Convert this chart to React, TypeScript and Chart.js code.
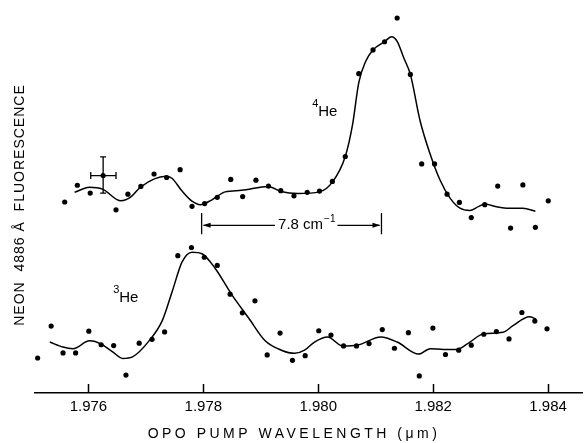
import React, { useEffect, useRef } from 'react';
import { Chart, registerables } from 'chart.js';

Chart.register(...registerables);

// ---- axis ----
const X_TICKS = [1.976, 1.978, 1.98, 1.982, 1.984];
const X_MIN = 1.97507;
const X_MAX = 1.98459;
const Y_MIN = 0;
const Y_MAX = 100;
const X_TITLE = 'OPO PUMP WAVELENGTH (\u03bcm)';
const Y_TITLE = 'NEON  4886 \u00c5  FLUORESCENCE';

// ---- 4He measured points ----
const HE4_X = [1.975587, 1.975807, 1.976031, 1.976256, 1.97648, 1.976687, 1.976912, 1.977142, 1.977361, 1.977596,
  1.977803, 1.978022, 1.978242, 1.978477, 1.978684, 1.978915, 1.979133, 1.979347, 1.979577, 1.979807,
  1.980021, 1.980245, 1.98047, 1.980705, 1.980953, 1.981154, 1.981373, 1.981603, 1.9818, 1.982024,
  1.982242, 1.982456, 1.982663, 1.982898, 1.983123, 1.983347, 1.983561, 1.983779, 1.984003];
const HE4_Y = [49.1, 53.4, 51.4, 55.9, 47.1, 51.1, 53.1, 56.3, 55.4, 57.4,
  48.0, 48.7, 50.3, 54.9, 50.5, 54.7, 53.2, 52.0, 50.7, 51.6,
  51.9, 54.4, 60.8, 82.1, 88.2, 90.3, 96.4, 81.9, 58.9, 58.9,
  51.1, 49.0, 45.1, 48.4, 53.2, 42.4, 53.5, 42.6, 49.4];

// ---- 4He smooth curve ----
const HE4_FIT_X = [1.97576, 1.976019, 1.976244, 1.976566, 1.976739, 1.976912, 1.977344, 1.977453, 1.977625, 1.977803,
  1.977948, 1.978143, 1.97838, 1.978661, 1.979128, 1.979352, 1.979646, 1.980021, 1.980245, 1.98047,
  1.980596, 1.980705, 1.980826, 1.980953, 1.981154, 1.981275, 1.981373, 1.981489, 1.981603, 1.981775,
  1.981948, 1.982121, 1.982294, 1.982466, 1.982639, 1.982784, 1.982898, 1.9831, 1.98333, 1.983561, 1.983779];
const HE4_FIT_Y = [51.6, 52.9, 52.4, 49.4, 50.4, 53.0, 55.7, 55.2, 52.0, 49.3,
  48.4, 49.6, 51.7, 52.1, 53.1, 51.8, 51.3, 51.7, 54.2, 60.8,
  68.9, 79.8, 85.3, 88.2, 90.3, 91.6, 90.4, 86.1, 81.9, 69.8,
  61.4, 54.7, 50.1, 47.5, 46.9, 47.9, 48.6, 47.9, 47.5, 47.5, 46.7];

// ---- 3He measured points ----
const HE3_X = [1.975116, 1.975351, 1.975558, 1.975777, 1.976007, 1.976221, 1.976439, 1.976653, 1.976883, 1.977107,
  1.977326, 1.977556, 1.977793, 1.978017, 1.978242, 1.978466, 1.978679, 1.978898, 1.979111, 1.979335,
  1.979551, 1.979772, 1.980009, 1.980221, 1.98044, 1.980665, 1.980884, 1.981114, 1.981326, 1.981568,
  1.981758, 1.981995, 1.982214, 1.982444, 1.982663, 1.982881, 1.9831, 1.98332, 1.983544, 1.983769, 1.983981];
const HE3_Y = [9.0, 17.2, 10.3, 10.3, 15.9, 12.4, 12.2, 4.6, 12.8, 13.8,
  15.7, 35.3, 37.4, 34.9, 32.8, 25.4, 20.6, 23.7, 9.8, 15.4,
  8.4, 9.6, 16.0, 14.9, 12.1, 12.1, 12.7, 16.3, 11.5, 15.5,
  4.4, 16.7, 9.9, 11.0, 12.3, 15.1, 15.8, 13.9, 20.7, 18.5, 16.5];

// ---- 3He smooth curve ----
const HE3_FIT_X = [1.975328, 1.975558, 1.975731, 1.976019, 1.976192, 1.976421, 1.976594, 1.976767, 1.977055, 1.977285,
  1.977458, 1.97763, 1.977803, 1.977976, 1.978207, 1.978494, 1.978782, 1.979071, 1.979358, 1.979589,
  1.979762, 1.979934, 1.980164, 1.980423, 1.980682, 1.981085, 1.981373, 1.981748, 1.981948, 1.98218,
  1.982409, 1.982639, 1.98287, 1.983216, 1.983389, 1.983675, 1.983791];
const HE3_FIT_Y = [13.1, 11.8, 11.4, 13.4, 12.8, 10.6, 8.9, 9.3, 13.4, 18.6,
  26.1, 33.7, 36.2, 35.8, 32.0, 25.3, 19.4, 13.5, 11.0, 10.2,
  11.0, 13.1, 14.4, 12.1, 12.3, 14.4, 13.1, 10.0, 11.4, 11.2,
  11.2, 13.1, 15.2, 15.6, 17.3, 19.6, 19.0];

// ---- error bar (on one 4He point) ----
const ERR_CENTER = [1.976256, 55.9];
const ERR_X = [1.97604, 1.97648];
const ERR_Y = [51.4, 60.7];

// ---- splitting marker ----
const SPLIT_X = [1.97797, 1.9811];
const SPLIT_Y = [40.8, 43.1, 46.3];
const SPLIT_TEXT_X = 1.9793;
const SPLIT_TEXT = '7.8 cm';
const SPLIT_SUP = '\u22121';

// ---- series labels ----
const LABELS = [
  { sup: '4', text: 'He', x: 1.98, y: 72.3 },
  { sup: '3', text: 'He', x: 1.976537, y: 24.4 },
];

const FONT = '"Liberation Sans", Arial, sans-serif';

const toXY = (xs: number[], ys: number[]) => xs.map((x, i) => ({ x, y: ys[i] }));

const annotPlugin = {
  id: 'annot',
  afterDraw(chart: any) {
    const { ctx, chartArea } = chart;
    const xs = chart.scales.x;
    const ys = chart.scales.y;
    const px = (v: number) => xs.getPixelForValue(v);
    const py = (v: number) => ys.getPixelForValue(v);
    ctx.save();
    ctx.strokeStyle = '#000';
    ctx.fillStyle = '#000';

    // inner tick marks
    ctx.lineWidth = 1.5;
    for (const t of X_TICKS) {
      const x = Math.round(px(t)) + 0.5;
      ctx.beginPath();
      ctx.moveTo(x, chartArea.bottom);
      ctx.lineTo(x, chartArea.bottom - 9);
      ctx.stroke();
    }

    // error bar
    ctx.lineWidth = 1.3;
    const cx = px(ERR_CENTER[0]);
    const cy = py(ERR_CENTER[1]);
    const x0 = px(ERR_X[0]), x1 = px(ERR_X[1]);
    const y0 = py(ERR_Y[0]), y1 = py(ERR_Y[1]);
    ctx.beginPath();
    ctx.moveTo(cx, y0); ctx.lineTo(cx, y1);
    ctx.moveTo(cx - 3, y0); ctx.lineTo(cx + 3, y0);
    ctx.moveTo(cx - 3, y1); ctx.lineTo(cx + 3, y1);
    ctx.moveTo(x0, cy); ctx.lineTo(x1, cy);
    ctx.moveTo(x0, cy - 3.5); ctx.lineTo(x0, cy + 3.5);
    ctx.moveTo(x1, cy - 3.5); ctx.lineTo(x1, cy + 3.5);
    ctx.stroke();

    // splitting marker
    const lx = px(SPLIT_X[0]), rx = px(SPLIT_X[1]);
    const yl = py(SPLIT_Y[1]);
    ctx.lineWidth = 1.3;
    ctx.beginPath();
    ctx.moveTo(lx, py(SPLIT_Y[0])); ctx.lineTo(lx, py(SPLIT_Y[2]));
    ctx.moveTo(rx, py(SPLIT_Y[0])); ctx.lineTo(rx, py(SPLIT_Y[2]));
    ctx.stroke();
    ctx.font = `15px ${FONT}`;
    ctx.textBaseline = 'middle';
    ctx.textAlign = 'left';
    const tx = px(SPLIT_TEXT_X);
    const tw = ctx.measureText(SPLIT_TEXT).width;
    ctx.fillText(SPLIT_TEXT, tx, yl);
    ctx.font = `10px ${FONT}`;
    const sw = ctx.measureText(SPLIT_SUP).width;
    ctx.fillText(SPLIT_SUP, tx + tw + 1, yl - 6);
    const te = tx + tw + 1 + sw + 2;
    ctx.beginPath();
    ctx.moveTo(lx + 2, yl); ctx.lineTo(tx - 3, yl);
    ctx.moveTo(te, yl); ctx.lineTo(rx - 2, yl);
    ctx.stroke();
    ctx.beginPath();
    ctx.moveTo(lx + 1, yl); ctx.lineTo(lx + 9, yl - 2.5); ctx.lineTo(lx + 9, yl + 2.5); ctx.closePath();
    ctx.moveTo(rx - 1, yl); ctx.lineTo(rx - 9, yl - 2.5); ctx.lineTo(rx - 9, yl + 2.5); ctx.closePath();
    ctx.fill();

    // series labels
    for (const l of LABELS) {
      const x = px(l.x), y = py(l.y);
      ctx.font = `15px ${FONT}`;
      ctx.textAlign = 'left';
      ctx.textBaseline = 'middle';
      ctx.fillText(l.text, x, y);
      ctx.font = `11px ${FONT}`;
      ctx.textAlign = 'right';
      ctx.fillText(l.sup, x, y - 8);
    }

    // axis titles
    ctx.textAlign = 'center';
    ctx.textBaseline = 'middle';
    ctx.font = `14px ${FONT}`;
    (ctx as any).letterSpacing = '3.5px';
    ctx.fillText(X_TITLE, 294, 434);
    (ctx as any).letterSpacing = '1px';
    ctx.translate(20, 205);
    ctx.rotate(-Math.PI / 2);
    ctx.fillText(Y_TITLE, 0, 0);
    (ctx as any).letterSpacing = '0px';
    ctx.restore();
  },
};

export default function App() {
  const ref = useRef<HTMLCanvasElement | null>(null);
  useEffect(() => {
    document.body.style.margin = '0';
    const canvas = ref.current;
    if (!canvas) return;
    const chart = new Chart(canvas, {
      type: 'scatter',
      data: {
        datasets: [
          {
            data: toXY(HE4_FIT_X, HE4_FIT_Y), showLine: true, pointRadius: 0,
            borderColor: '#000', borderWidth: 1.5, cubicInterpolationMode: 'monotone', fill: false,
          } as any,
          {
            data: toXY(HE3_FIT_X, HE3_FIT_Y), showLine: true, pointRadius: 0,
            borderColor: '#000', borderWidth: 1.5, cubicInterpolationMode: 'monotone', fill: false,
          } as any,
          {
            data: toXY(HE4_X, HE4_Y), pointRadius: 2.6, pointBackgroundColor: '#000', pointBorderWidth: 0,
            borderColor: '#000',
          },
          {
            data: toXY(HE3_X, HE3_Y), pointRadius: 2.6, pointBackgroundColor: '#000', pointBorderWidth: 0,
            borderColor: '#000',
          },
        ],
      },
      options: {
        animation: false,
        responsive: false,
        events: [],
        layout: { padding: { left: 35, right: 0, top: 0, bottom: 22 } },
        plugins: { legend: { display: false }, tooltip: { enabled: false } },
        scales: {
          x: {
            type: 'linear',
            min: X_MIN,
            max: X_MAX,
            afterBuildTicks: (s: any) => { s.ticks = X_TICKS.map((v) => ({ value: v })); },
            ticks: {
              callback: (v: any) => Number(v).toFixed(3),
              font: { family: FONT, size: 15 },
              color: '#000',
              padding: 5,
              autoSkip: false,
              maxRotation: 0,
            },
            grid: { display: false, drawTicks: false },
            border: { display: true, color: '#000', width: 1.5 },
          },
          y: { display: false, min: Y_MIN, max: Y_MAX },
        },
      },
      plugins: [annotPlugin],
    });
    return () => chart.destroy();
  }, []);
  return (
    <div style={{ width: 586, height: 443, background: '#fff' }}>
      <canvas ref={ref} width={586} height={443} style={{ display: 'block' }} />
    </div>
  );
}
